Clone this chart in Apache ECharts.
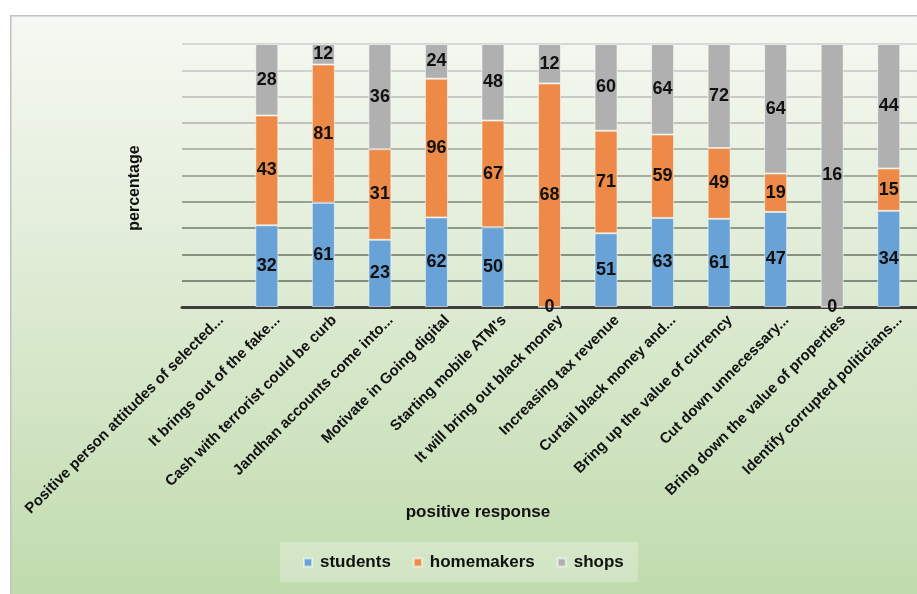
<!DOCTYPE html>
<html>
<head>
<meta charset="utf-8">
<script src="https://cdn.jsdelivr.net/npm/echarts@6/dist/echarts.min.js"></script>
<style>
  html, body { margin: 0; padding: 0; background: #ffffff; }
  #chart { width: 917px; height: 594px; }
</style>
</head>
<body>
<div id="chart"></div>
<script>
// Survey responses per statement (raw counts); bars are drawn as share of each column
const categories = [
  "Positive person attitudes of selected...",
  "It brings out of the fake...",
  "Cash with terrorist could be curb",
  "Jandhan accounts come into...",
  "Motivate in Going digital",
  "Starting mobile ATM's",
  "It will bring out black money",
  "Increasing tax revenue",
  "Curtail black money and...",
  "Bring up the value of currency",
  "Cut down unnecessary...",
  "Bring down the value of properties",
  "Identify corrupted politicians..."
];
const students   = [null, 32, 61, 23, 62, 50, 0, 51, 63, 61, 47, 0, 34];
const homemakers = [null, 43, 81, 31, 96, 67, 68, 71, 59, 49, 19, null, 15];
const shops      = [null, 28, 12, 36, 24, 48, 12, 60, 64, 72, 64, 16, 44];

const seriesNames = ["students", "homemakers", "shops"];
const seriesColors = ["#68a2d6", "#ee8a47", "#b0b0b0"];
const rawSeries = [students, homemakers, shops];

// column totals used to turn counts into percentages
const totals = categories.map((_, i) =>
  rawSeries.reduce((s, arr) => s + (arr[i] == null ? 0 : arr[i]), 0));

function toPercent(arr) {
  return arr.map((v, i) => {
    if (v == null) return null;
    return { value: totals[i] ? (v / totals[i]) * 100 : 0, raw: v };
  });
}

const FONT = "'Liberation Sans', Arial, Helvetica, sans-serif";

// gridline shades, bottom line first, fading toward the top
const gridShades = ['#6f7d6b', '#7f8c7a', '#86927f', '#8e9a88', '#99a394', '#a5ada0',
                    '#b2b8ad', '#bec2ba', '#c8cac5', '#d0d1cf', '#d6d6d6'];

const chart = echarts.init(document.getElementById('chart'), null, { renderer: 'canvas' });

chart.setOption({
  animation: false,
  backgroundColor: '#ffffff',
  graphic: [
    {
      type: 'rect',
      z: -100,
      silent: true,
      left: 10,
      top: 15,
      shape: { width: 960, height: 620 },
      style: {
        fill: new echarts.graphic.LinearGradient(0, 0, 0, 1, [
          { offset: 0, color: '#f6f9f3' },
          { offset: 0.35, color: '#e3eeda' },
          { offset: 1, color: '#bcd9a8' }
        ]),
        stroke: '#c2c2c2',
        lineWidth: 1.5
      }
    },
    {
      type: 'text',
      z: 10,
      silent: true,
      x: 135,
      y: 188,
      rotation: Math.PI / 2,
      style: {
        text: 'percentage',
        font: 'bold 16px ' + FONT,
        fill: '#111111',
        textAlign: 'center',
        textVerticalAlign: 'middle'
      }
    },
    {
      type: 'text',
      z: 10,
      silent: true,
      x: 478,
      y: 512,
      style: {
        text: 'positive response',
        font: 'bold 17px ' + FONT,
        fill: '#111111',
        textAlign: 'center',
        textVerticalAlign: 'middle'
      }
    }
  ],
  legend: {
    data: seriesNames,
    left: 280,
    top: 542,
    orient: 'horizontal',
    icon: 'rect',
    itemWidth: 8,
    itemHeight: 8,
    itemGap: 22,
    padding: [12, 14, 11, 23],
    backgroundColor: 'rgba(255,255,255,0.28)',
    textStyle: {
      fontFamily: FONT,
      fontSize: 17,
      fontWeight: 'bold',
      color: '#111111',
      padding: [0, 0, 0, 3]
    }
  },
  grid: {
    left: 182,
    top: 44,
    width: 749,
    height: 263,
    containLabel: false
  },
  xAxis: {
    type: 'category',
    data: categories,
    axisTick: { show: false },
    axisLine: { lineStyle: { color: '#3f3f3f', width: 3 } },
    axisLabel: {
      interval: 0,
      rotate: 45,
      margin: 0,
      verticalAlign: 'top',
      lineHeight: 31,
      fontFamily: FONT,
      fontSize: 15,
      fontWeight: 'bold',
      color: '#111111'
    }
  },
  yAxis: {
    type: 'value',
    min: 0,
    max: 100,
    interval: 10,
    axisLabel: { show: false },
    axisLine: { show: false },
    axisTick: { show: false },
    splitLine: { lineStyle: { color: gridShades, width: 2 } }
  },
  series: rawSeries.map((arr, k) => ({
    name: seriesNames[k],
    type: 'bar',
    stack: 'total',
    barWidth: 23,
    data: toPercent(arr),
    itemStyle: {
      color: seriesColors[k],
      borderColor: 'rgba(255,255,255,0.55)',
      borderWidth: 1
    },
    label: {
      show: true,
      position: 'inside',
      fontFamily: FONT,
      fontSize: 18,
      fontWeight: 'bold',
      color: '#111111',
      textBorderWidth: 0,
      formatter: p => (p.data && p.data.raw != null ? String(p.data.raw) : '')
    }
  }))
});
</script>
</body>
</html>
